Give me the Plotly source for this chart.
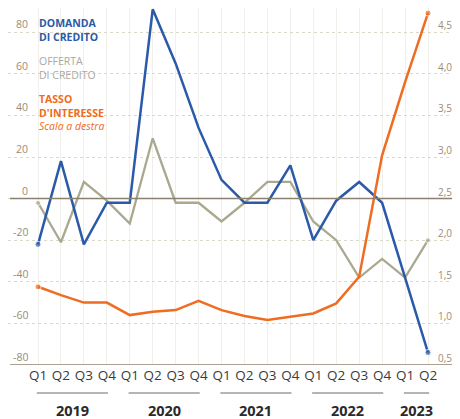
import plotly.graph_objects as go

quarters = ["Q1", "Q2", "Q3", "Q4", "Q1", "Q2", "Q3", "Q4", "Q1", "Q2", "Q3", "Q4",
            "Q1", "Q2", "Q3", "Q4", "Q1", "Q2"]
years = ["2019", "2020", "2021", "2022", "2023"]
year_span = [(0, 3), (4, 7), (8, 11), (12, 15), (16, 17)]

domanda = [-22, 18, -22, -2, -2, 91, 65, 34, 9, -2, -2, 16, -20, -1, 8, -2, -38, -74]
offerta = [-2, -21, 8, -1, -12, 29, -2, -2, -11, -2, 8, 8, -11, -20, -38, -29, -38, -20]
tasso = [1.44, 1.34, 1.25, 1.25, 1.10, 1.14, 1.16, 1.27, 1.16, 1.09, 1.04, 1.08,
         1.12, 1.24, 1.56, 3.02, 3.90, 4.73]

left_ticks = [80, 60, 40, 20, 0, -20, -40, -60, -80]
right_ticks = [4.5, 4.0, 3.5, 3.0, 2.5, 2.0, 1.5, 1.0, 0.5]
right_labels = ["4,50", "4,00", "3,50", "3,00", "2,50", "2,00", "1,50", "1,00", "0,50"]

# the page body adds an 8px margin: figure pixel = reference pixel - 8
OFF = 8
W, H = 460 - OFF, 419 - OFF
BOTTOM_PX = 365 - OFF
xs = list(range(len(quarters)))

BLUE = "#2a5aa8"
GRAY = "#aaa88f"
ORANGE = "#ef6c20"
TICKC = "#9a8c78"
FONT = "Open Sans"


def end_sizes(n, s):
    return [s if i in (0, n - 1) else 0 for i in range(n)]


def fx(p):  # reference x pixel -> paper
    return (p - OFF) / W


def fy(p):  # reference y pixel -> paper (plot domain bottom = 0)
    return (BOTTOM_PX - (p - OFF)) / BOTTOM_PX


fig = go.Figure()
fig.add_trace(go.Scatter(x=xs, y=offerta, mode="lines+markers",
                         line=dict(color=GRAY, width=2.3),
                         marker=dict(size=end_sizes(len(xs), 5), color=GRAY),
                         hoverinfo="skip"))
fig.add_trace(go.Scatter(x=xs, y=domanda, mode="lines+markers",
                         line=dict(color=BLUE, width=2.5),
                         marker=dict(size=end_sizes(len(xs), 6), color=BLUE),
                         hoverinfo="skip"))
fig.add_trace(go.Scatter(x=xs, y=tasso, yaxis="y2", mode="lines+markers",
                         line=dict(color=ORANGE, width=2.5),
                         marker=dict(size=end_sizes(len(xs), 6), color=ORANGE),
                         hoverinfo="skip"))

px_per_idx = 22.94
x0 = -(38 - OFF) / px_per_idx
x1 = 17 + (460 - 428) / px_per_idx
ymin, ymax = -80, -80 + BOTTOM_PX / 2.08

fig.update_layout(
    width=W, height=H,
    margin=dict(l=0, r=0, t=0, b=H - BOTTOM_PX),
    paper_bgcolor="white", plot_bgcolor="white",
    showlegend=False,
    font=dict(family=FONT, color="#333"),
    xaxis=dict(range=[x0, x1], tickvals=xs, ticktext=quarters,
               showgrid=True, gridcolor="#f1efea", gridwidth=1,
               zeroline=False, showline=False, ticks="",
               tickfont=dict(size=13.5, color="#3a3a3a", family=FONT),
               fixedrange=True),
    yaxis=dict(range=[ymin, ymax], tickvals=left_ticks, showticklabels=False,
               showgrid=True, gridcolor="#dcd8cc", griddash="dot", gridwidth=1,
               zeroline=False, showline=False, ticks=""),
    yaxis2=dict(range=[0.5 + (ymin + 80) / 40, 2.5 + ymax / 40], overlaying="y",
                side="right", showgrid=False, showticklabels=False,
                zeroline=False, showline=False, tickvals=right_ticks),
)

# zero line and baseline
fig.add_shape(type="line", xref="paper", yref="y", x0=fx(10), x1=1, y0=0, y1=0,
              line=dict(color="#8c8070", width=1.5))
fig.add_shape(type="line", xref="paper", yref="y", x0=fx(10), x1=1, y0=-80, y1=-80,
              line=dict(color="#a8a090", width=2))

# left tick labels
for v in left_ticks:
    fig.add_annotation(x=fx(30), xref="paper", y=v, yref="y", text=str(v),
                       showarrow=False, xanchor="right", yanchor="middle", yshift=8,
                       font=dict(size=10.5, color=TICKC, family=FONT))
# right tick labels
for v, t in zip(right_ticks, right_labels):
    fig.add_annotation(x=1, xref="paper", y=v, yref="y2", text=t,
                       showarrow=False, xanchor="right", yanchor="middle", yshift=7,
                       font=dict(size=10, color=TICKC, family=FONT))

# year groups
for yr, (a, b) in zip(years, year_span):
    fig.add_shape(type="line", xref="x", yref="paper", x0=a - 0.05, x1=b + 0.05,
                  y0=fy(393), y1=fy(393),
                  line=dict(color="#6a6a6a", width=1))
    fig.add_annotation(x=(a + b) / 2, xref="x", y=fy(410),
                       yref="paper", text="<b>%s</b>" % yr, showarrow=False,
                       xanchor="center", yanchor="middle",
                       font=dict(size=14.5, color="#2a2a2a", family=FONT))

fig.add_annotation(x=fx(37), xref="paper", y=fy(14), yref="paper",
                   text="<b>DOMANDA<br>DI CREDITO</b>", showarrow=False,
                   xanchor="left", yanchor="top", align="left",
                   font=dict(size=10.5, color=BLUE, family=FONT))
fig.add_annotation(x=fx(37), xref="paper", y=fy(52), yref="paper",
                   text="OFFERTA<br>DI CREDITO", showarrow=False,
                   xanchor="left", yanchor="top", align="left",
                   font=dict(size=10.5, color="#a9a9a0", family=FONT))
fig.add_annotation(x=fx(37), xref="paper", y=fy(90), yref="paper",
                   text="<b>TASSO<br>D'INTERESSE</b><br><i>Scala a destra</i>",
                   showarrow=False, xanchor="left", yanchor="top", align="left",
                   font=dict(size=10.5, color=ORANGE, family=FONT))

fig.write_html("out.html")
